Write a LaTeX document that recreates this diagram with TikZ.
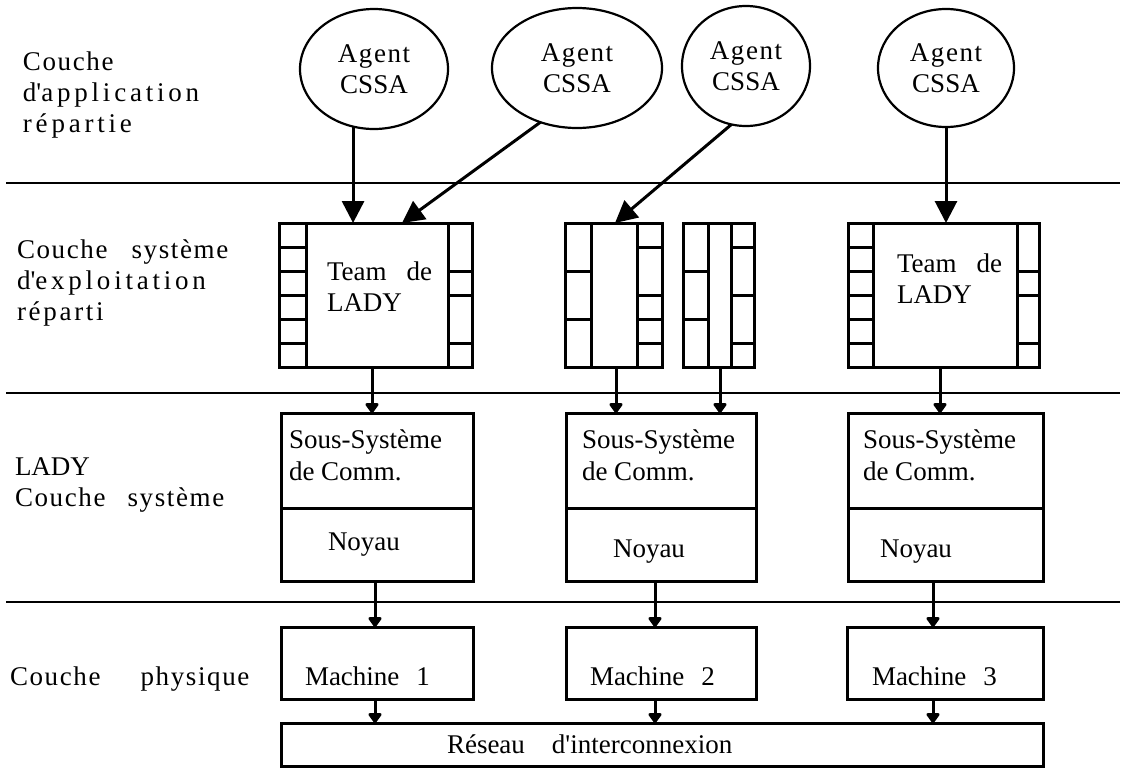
\documentclass[tikz,border=0pt]{standalone}
\usepackage{fontspec}
\setmainfont{Liberation Serif}
\newfontfamily\spwide[LetterSpace=14]{Liberation Serif}
\newfontfamily\spmid[LetterSpace=10]{Liberation Serif}
\newfontfamily\spnarrow[LetterSpace=6]{Liberation Serif}
\usetikzlibrary{arrows.meta,shapes.geometric,calc}
% horizontal gap between words
\newcommand\wgap[1]{\hspace{#1pt}}
% straight apostrophe
\newcommand\ap{\textquotesingle}
% framed box: name, left, top, width, height
\newcommand\frm[5]{\node[frame, minimum width=#4pt, minimum height=#5pt] (#1) at (#2,#3) {};}
\begin{document}
\begin{tikzpicture}[x=1pt,y=-1pt,
  every node/.style={font=\fontsize{27}{31}\selectfont, inner sep=0pt, outer sep=0pt},
  frame/.style={draw, line width=3pt, anchor=north west},
  agent/.style={draw, ellipse, line width=2.2pt, align=center},
  layer/.style={line width=2.6pt},
  cell/.style={line width=3pt},
  bigarrow/.style={line width=3pt, -{Triangle[length=22pt,width=22pt]}},
  smallarrow/.style={line width=3pt, -{Triangle[length=11pt,width=15pt,round]}},
  txt/.style={anchor=north west, align=left},
  txtb/.style={anchor=base west},
]
\useasboundingbox (0,0) rectangle (1125,769);

% layer separators
\draw[layer] (6,183) -- (1120,183);
\draw[layer] (6,393) -- (1120,393);
\draw[layer] (6,602) -- (1120,602);

% layer names
\node[txt] (l1) at (23,52) {\spnarrow Couche\\\spwide d\ap application\\\spwide répartie};
\node[txt] (l2) at (17,240) {\spnarrow Couche\wgap{24}système\\\spwide d\ap exploitation\\\spmid réparti};
\node[txt] (l3) at (15,458) {LADY\\\spnarrow Couche\wgap{22}système};
\node[txtb] (l4) at (10,685) {\spnarrow Couche\wgap{40}physique};

% application agents
\node[agent, minimum width=148pt, minimum height=120pt] (a1) at (374,69) {{\spnarrow Agent}\\CSSA};
\node[agent, minimum width=170pt, minimum height=120pt] (a2) at (577,68) {{\spnarrow Agent}\\CSSA};
\node[agent, minimum width=128pt, minimum height=120pt] (a3) at (746,66) {{\spnarrow Agent}\\CSSA};
\node[agent, minimum width=136pt, minimum height=118pt] (a4) at (946,68) {{\spnarrow Agent}\\CSSA};

% distributed OS teams
\frm{t1}{279}{223}{193}{144}
\draw[cell] (306,223) -- (306,367) (448,223) -- (448,367);
\foreach \yy in {247,271,295,319,343} \draw[cell] (279,\yy) -- (306,\yy);
\foreach \yy in {271,295,343} \draw[cell] (448,\yy) -- (472,\yy);
\node[txt] (t1txt) at (327,262) {Team\wgap{20}de\\LADY};

\frm{m1}{565}{223}{97}{144}
\draw[cell] (591,223) -- (591,367) (637,223) -- (637,367);
\foreach \yy in {271,319} \draw[cell] (565,\yy) -- (591,\yy);
\foreach \yy in {247,295,319,343} \draw[cell] (637,\yy) -- (662,\yy);

\frm{m2}{683}{223}{71}{144}
\draw[cell] (708,223) -- (708,367) (731,223) -- (731,367);
\foreach \yy in {271,319} \draw[cell] (683,\yy) -- (708,\yy);
\foreach \yy in {247,295,343} \draw[cell] (731,\yy) -- (754,\yy);

\frm{t3}{848}{223}{191}{144}
\draw[cell] (873,223) -- (873,367) (1017,223) -- (1017,367);
\foreach \yy in {247,271,295,319,343} \draw[cell] (848,\yy) -- (873,\yy);
\foreach \yy in {271,295,343} \draw[cell] (1017,\yy) -- (1039,\yy);
\node[txt] (t3txt) at (897,254) {Team\wgap{20}de\\LADY};

% LADY system layer
\frm{s1}{281}{413}{192}{95} \frm{n1}{281}{508}{192}{73}
\frm{s2}{566}{413}{190}{95} \frm{n2}{566}{508}{190}{73}
\frm{s3}{848}{413}{195}{95} \frm{n3}{848}{508}{195}{73}
\node[txt] (s1txt) at (289,430) {Sous-Système\\[1pt]de Comm.};
\node[txt] (s2txt) at (582,430) {Sous-Système\\[1pt]de Comm.};
\node[txt] (s3txt) at (863,430) {Sous-Système\\[1pt]de Comm.};
\node[txtb] (n1txt) at (328,550) {Noyau};
\node[txtb] (n2txt) at (613,557) {Noyau};
\node[txtb] (n3txt) at (880,557) {Noyau};

% physical layer
\frm{p1}{281}{627}{192}{72}
\frm{p2}{566}{627}{190}{72}
\frm{p3}{847}{627}{196}{72}
\node[txtb] (p1txt) at (305,685) {Machine\wgap{17}1};
\node[txtb] (p2txt) at (590,685) {Machine\wgap{17}2};
\node[txtb] (p3txt) at (872,685) {Machine\wgap{17}3};
\frm{net}{281}{723}{762}{43}
\node[txtb] (nettxt) at (447,753) {Réseau\wgap{27}d\ap interconnexion};

% agents to teams
\draw[bigarrow] (a1.250) -- (a1.250 |- t1.north);
\draw[bigarrow] (a2.236) -- ($(t1.north west)+(123,0)$);
\draw[bigarrow] (a3.256) -- ($(m1.north west)+(50,0)$);
\draw[bigarrow] (a4.south) -- (a4.south |- t3.north);

% teams to communication subsystems
\draw[smallarrow] ($(t1.south west)+(93,0)$) -- ($(s1.north west)+(91,0)$);
\draw[smallarrow] ($(m1.south west)+(51,0)$) -- ($(s2.north west)+(50,0)$);
\draw[smallarrow] ($(m2.south west)+(37,0)$) -- ($(s2.north west)+(154,0)$);
\draw[smallarrow] ($(t3.south west)+(92,0)$) -- ($(s3.north west)+(92,0)$);

% kernels to machines
\draw[smallarrow] ($(n1.south west)+(94,0)$) -- ($(p1.north west)+(94,0)$);
\draw[smallarrow] ($(n2.south west)+(89,0)$) -- ($(p2.north west)+(89,0)$);
\draw[smallarrow] ($(n3.south west)+(85,0)$) -- ($(p3.north west)+(86,0)$);

% machines to network
\draw[smallarrow] ($(p1.south west)+(94,0)$) -- ($(net.north west)+(94,0)$);
\draw[smallarrow] ($(p2.south west)+(89,0)$) -- ($(net.north west)+(374,0)$);
\draw[smallarrow] ($(p3.south west)+(86,0)$) -- ($(net.north west)+(652,0)$);
\end{tikzpicture}
\end{document}
